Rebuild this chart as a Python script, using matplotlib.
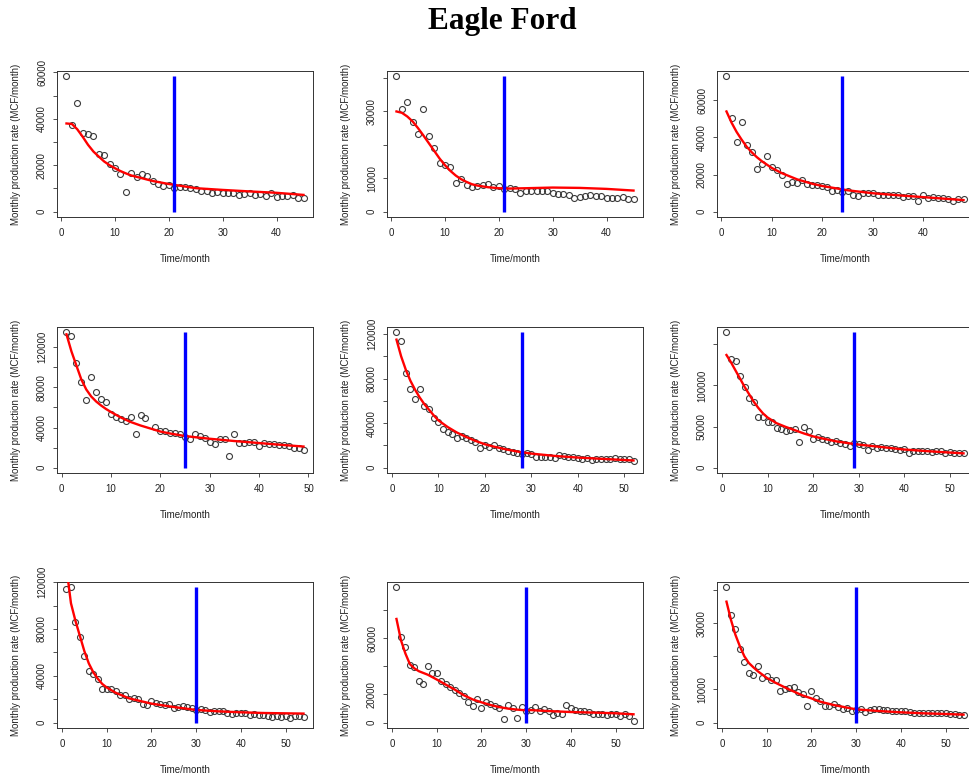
import numpy as np
import matplotlib
matplotlib.use('Agg')
import matplotlib.pyplot as plt

plt.rcParams['font.family'] = ['Liberation Sans', 'DejaVu Sans']

title = "Eagle Ford"
xlabel = "Time/month"
ylabel = "Monthly production rate (MCF/month)"

# ---------------- data (monthly production, MCF/month) ----------------
p1_rate = [58300, 37400, 46800, 34100, 33500, 32400, 24900, 24600, 20600, 18700,
           16300, 8300, 16800, 15100, 16100, 15400, 13400, 12100, 11200, 11500,
           10100, 10400, 10800, 10100, 9600, 8900, 8900, 8200, 8300, 8200,
           8200, 8200, 7300, 7500, 8200, 7000, 7500, 6800, 7900, 6500,
           6800, 6800, 7200, 6000, 6000]
p1_fit_x = [1, 2, 3, 4, 5, 6, 7, 8, 9, 10, 11, 12, 13, 15, 17, 20, 25, 30, 35, 40, 45]
p1_fit_y = [38000, 37800, 35500, 32300, 28800, 25900, 23700, 21600, 20000, 18700, 17500,
            16500, 15600, 14400, 13200, 11900, 10100, 9350, 8700, 8100, 7200]
p1_cut = 21

p2_rate = [40500, 30800, 32800, 26800, 23300, 30800, 22600, 19100, 14600, 13900,
           13300, 8600, 9900, 8100, 7500, 7800, 7900, 8200, 7400, 7700,
           6900, 7100, 6700, 5700, 6300, 6200, 6300, 6100, 6100, 5700,
           5200, 5300, 4900, 4100, 4500, 4700, 4900, 4700, 4600, 4200,
           4200, 4200, 4500, 3700, 3700]
p2_fit_x = [1, 2, 3, 4, 5, 6, 7, 8, 9, 10, 11, 12, 13, 14, 15, 16, 18, 20, 22, 25, 30, 35, 40, 45]
p2_fit_y = [30000, 29600, 28500, 27000, 25000, 22800, 20500, 18200, 15900, 13900, 12200, 10800,
            9700, 8900, 8200, 7800, 7300, 7000, 6900, 7000, 7200, 7100, 6800, 6300]
p2_cut = 21

p3_rate = [72900, 50500, 37400, 48500, 36000, 31900, 22700, 25400, 29900, 24200,
           22400, 19700, 14700, 16100, 15400, 17000, 14900, 14300, 14100, 14000,
           13400, 11100, 11800, 10600, 11100, 8800, 8400, 9900, 9900, 9900,
           8800, 9000, 9100, 9000, 8800, 7700, 8200, 8200, 5700, 9000,
           7500, 7900, 7500, 7500, 7000, 5700, 6800, 6800]
p3_fit_x = [1, 2, 3, 4, 5, 6, 7, 8, 10, 12, 15, 18, 20, 25, 30, 35, 40, 45, 48]
p3_fit_y = [54000, 48000, 43000, 38800, 35000, 32000, 29400, 27200, 23500, 20700, 17400,
            15000, 13800, 11500, 9900, 8800, 7800, 6800, 6200]
p3_cut = 24

p4_rate = [134900, 130900, 104500, 85300, 67100, 90200, 75400, 68400, 65100, 53900,
           50600, 48300, 46600, 50600, 33400, 52600, 49600, np.nan, 40700, 36700,
           36700, 34700, 34700, 33400, 30700, 28100, 33400, 31400, 29100, 25800,
           23500, 28100, 28100, 11900, 33400, 24100, 24100, 25500, 25500, 21800,
           24100, 23500, 23100, 22500, 22100, 21500, 19500, 19200, 17900]
p4_fit_x = [1, 2, 3, 4, 5, 6, 7, 8, 9, 10, 12, 14, 16, 18, 20, 22, 25, 28, 30, 35, 40, 45, 49]
p4_fit_y = [133000, 116000, 102000, 88000, 78000, 71000, 66000, 62000, 58500, 55500, 50000,
            45500, 42000, 39000, 36000, 34000, 31500, 29800, 28800, 26500, 24500, 22500, 21000]
p4_cut = 25

p5_rate = [121500, 113500, 85200, 70300, 61900, 70300, 55400, 53000, 45000, 41100,
           34500, 32200, 30100, 26800, 28300, 26200, 24700, 23200, 17900, 20200,
           18800, 20200, 17300, 16700, 14900, 13700, 13400, 12200, 12800, 11900,
           9800, 9800, 9800, 9200, 8900, 11300, 10400, 9800, 9500, 8900,
           8000, 8900, 6800, 8000, 8000, 8000, 7400, 8300, 7700, 7400,
           7400, 6300]
p5_fit_x = [1, 2, 3, 4, 5, 6, 7, 8, 9, 10, 12, 14, 16, 18, 20, 22, 25, 28, 30, 35, 40, 45, 52]
p5_fit_y = [115000, 100000, 88000, 78000, 70000, 63000, 57000, 52000, 47000, 42500, 36500,
            31500, 27500, 24000, 21000, 18800, 16000, 13700, 12600, 10500, 9000, 7900, 6400]
p5_cut = 28

p6_rate = [164500, 132300, 129400, 111300, 98000, 85100, 79800, 61700, 61700, 55600,
           55600, 47600, 47200, 44800, 45600, 46400, 30600, 49600, 44800, 35100,
           36700, 34300, 33500, 31000, 31900, 30200, 28600, 26600, 29400, 28600,
           27400, 21400, 26200, 24200, 25000, 24200, 23400, 22200, 21400, 22200,
           18100, 20200, 20600, 19800, 20600, 19400, 20600, 19800, 17300, 18500,
           17300, 17300, 17300]
p6_fit_x = [1, 2, 3, 4, 5, 6, 7, 8, 9, 10, 12, 14, 16, 18, 20, 22, 25, 28, 30, 35, 40, 45, 53]
p6_fit_y = [137000, 128000, 118000, 108000, 98000, 89000, 80000, 72500, 66000, 61000, 54000,
            49500, 45500, 41500, 38000, 35500, 32000, 29500, 28000, 25000, 22000, 20000, 17300]
p6_cut = 29

p7_rate = [114300, 115500, 86000, 72900, 56700, 44000, 41700, 37400, 28400, 28400,
           28400, 27000, 23500, 23500, 19900, 20700, 19900, 15600, 15000, 18400,
           17000, 15600, 15000, 15600, 12800, 13600, 14500, 13300, 12200, 10800,
           11300, 10500, 9400, 9600, 9900, 9900, 7900, 7100, 8500, 8500,
           8500, 6800, 7700, 6500, 6500, 6000, 4800, 5400, 5100, 5700,
           4300, 5700, 5400, 4800]
p7_fit_x = [1, 2, 3, 4, 5, 6, 7, 8, 9, 10, 12, 15, 20, 25, 30, 35, 40, 45, 54]
p7_fit_y = [132000, 102000, 87000, 74000, 61000, 50500, 43000, 37500, 33000, 30000, 25500,
            20700, 16200, 13300, 10800, 9600, 8800, 8200, 7700]
p7_cut = 30

p8_rate = [96000, 60700, 53400, 40700, 39500, 29400, 27100, 40000, 35300, 35300,
           29400, 27500, 25600, 23100, 20700, 18800, 14600, 12000, 16500, 10100,
           14600, 12900, 11800, 10600, 2400, 12500, 10600, 3500, 11100, 8200,
           9200, 11100, 8200, 9900, 8200, 5400, 6600, 5900, 12200, 10100,
           8700, 8200, 8200, 7300, 6400, 6400, 6400, 5200, 6400, 6400,
           4500, 5900, 4900, 1200]
p8_fit_x = [1, 2, 3, 4, 5, 6, 8, 10, 12, 14, 16, 18, 20, 22, 24, 26, 28, 30, 31, 33, 35, 40, 45, 50, 54]
p8_fit_y = [73600, 58500, 49000, 41500, 38500, 36500, 34000, 30600, 27000, 23500, 19500,
            16500, 14400, 12500, 11000, 9900, 9200, 8700, 8900, 8500, 8200, 7500, 7100, 6600, 5900]
p8_cut = 30

p9_rate = [40800, 32400, 28200, 22100, 18400, 15000, 14400, 17000, 13500, 14000,
           12900, 13000, 9600, 10200, 10300, 10800, 9300, 8700, 5000, 9400,
           7300, 6500, 4900, 4900, 5500, 4700, 4100, 4500, 3500, 3800,
           4000, 3200, 3800, 4100, 4100, 3800, 3700, 3500, 3500, 3500,
           3500, 3200, 2900, 2900, 2900, 2900, 2900, 2900, 2800, 2800,
           2600, 2600, 2200, 2200]
p9_fit_x = [1, 2, 3, 4, 5, 6, 7, 8, 10, 12, 15, 18, 20, 22, 25, 28, 30, 35, 40, 45, 50, 54]
p9_fit_y = [36500, 31000, 26500, 23000, 20000, 18000, 16700, 15500, 13500, 12000, 10000,
            8200, 7300, 6300, 5300, 4500, 4000, 3500, 3100, 2800, 2600, 2400]
p9_cut = 30

# y-axis ticks and which labels R kept
p1_yticks = [0, 10000, 20000, 30000, 40000, 50000, 60000]
p1_ylabels = ["0", "", "20000", "", "40000", "", "60000"]
p2_yticks = [0, 10000, 20000, 30000, 40000]
p2_ylabels = ["0", "10000", "", "30000", ""]
p3_yticks = [0, 20000, 40000, 60000]
p3_ylabels = ["0", "20000", "40000", "60000"]
p4_yticks = [0, 20000, 40000, 60000, 80000, 100000, 120000]
p4_ylabels = ["0", "", "40000", "", "80000", "", "120000"]
p5_yticks = [0, 20000, 40000, 60000, 80000, 100000, 120000]
p5_ylabels = ["0", "", "40000", "", "80000", "", "120000"]
p6_yticks = [0, 50000, 100000, 150000]
p6_ylabels = ["0", "50000", "100000", ""]
p7_yticks = [0, 20000, 40000, 60000, 80000, 100000, 120000]
p7_ylabels = ["0", "", "40000", "", "80000", "", "120000"]
p8_yticks = [0, 20000, 40000, 60000, 80000]
p8_ylabels = ["0", "20000", "", "60000", ""]
p9_yticks = [0, 10000, 20000, 30000, 40000]
p9_ylabels = ["0", "10000", "", "30000", ""]

panels = [
    (p1_rate, p1_fit_x, p1_fit_y, p1_cut, p1_yticks, p1_ylabels),
    (p2_rate, p2_fit_x, p2_fit_y, p2_cut, p2_yticks, p2_ylabels),
    (p3_rate, p3_fit_x, p3_fit_y, p3_cut, p3_yticks, p3_ylabels),
    (p4_rate, p4_fit_x, p4_fit_y, p4_cut, p4_yticks, p4_ylabels),
    (p5_rate, p5_fit_x, p5_fit_y, p5_cut, p5_yticks, p5_ylabels),
    (p6_rate, p6_fit_x, p6_fit_y, p6_cut, p6_yticks, p6_ylabels),
    (p7_rate, p7_fit_x, p7_fit_y, p7_cut, p7_yticks, p7_ylabels),
    (p8_rate, p8_fit_x, p8_fit_y, p8_cut, p8_yticks, p8_ylabels),
    (p9_rate, p9_fit_x, p9_fit_y, p9_cut, p9_yticks, p9_ylabels),
]

# ---------------- layout ----------------
W, H = 969, 778
fig = plt.figure(figsize=(W / 100, H / 100), dpi=100)
fig.text(502 / W, 1 - 22 / H, title, family=['Liberation Serif', 'DejaVu Serif'],
         weight='bold', size=22.5, ha='center', va='center')

col_left = [57, 387, 717]
row_top = [71, 327, 582]
aw, ah = 256, 146
edge = '#333333'
fs = 7

for i, (rate, fx, fy, cut, yt, yl) in enumerate(panels):
    r, c = divmod(i, 3)
    ax = fig.add_axes([col_left[c] / W, 1 - (row_top[r] + ah) / H, aw / W, ah / H])
    rate = np.array(rate, dtype=float)
    months = np.arange(1, len(rate) + 1)
    n = len(rate)
    ymax = np.nanmax(rate)

    ax.plot(months, rate, 'o', mfc='none', mec='#3a3a3a', ms=4.3, mew=0.8, zorder=3)
    ax.plot(fx, fy, color='red', lw=1.7, zorder=4)
    ax.vlines(cut, 0, ymax, color='blue', lw=2.4, zorder=5)

    ax.set_xlim(1 - 0.04 * (n - 1), n + 0.04 * (n - 1))
    ax.set_ylim(-0.04 * ymax, 1.04 * ymax)
    xt = [t for t in range(0, 60, 10) if t <= n + 0.04 * (n - 1)]
    ax.set_xticks(xt)
    ax.set_xticklabels([str(t) for t in xt])
    ax.set_yticks(yt)
    ax.set_yticklabels(yl, rotation=90, va='center')

    for s in ax.spines.values():
        s.set_linewidth(0.7)
        s.set_color(edge)
    ax.tick_params(direction='out', length=3.2, width=0.6, color=edge,
                   labelsize=fs, labelcolor='#222222')
    ax.tick_params(axis='x', pad=5)
    ax.tick_params(axis='y', pad=4)

    ax.text(0.5, -42 / ah, xlabel, transform=ax.transAxes, ha='center', va='center',
            fontsize=fs, color='#222222')
    ax.text(-41 / aw, 0.5, ylabel, transform=ax.transAxes, ha='center', va='center',
            rotation=90, fontsize=fs, color='#222222')

fig.savefig('out.png', dpi=100, facecolor='white')
